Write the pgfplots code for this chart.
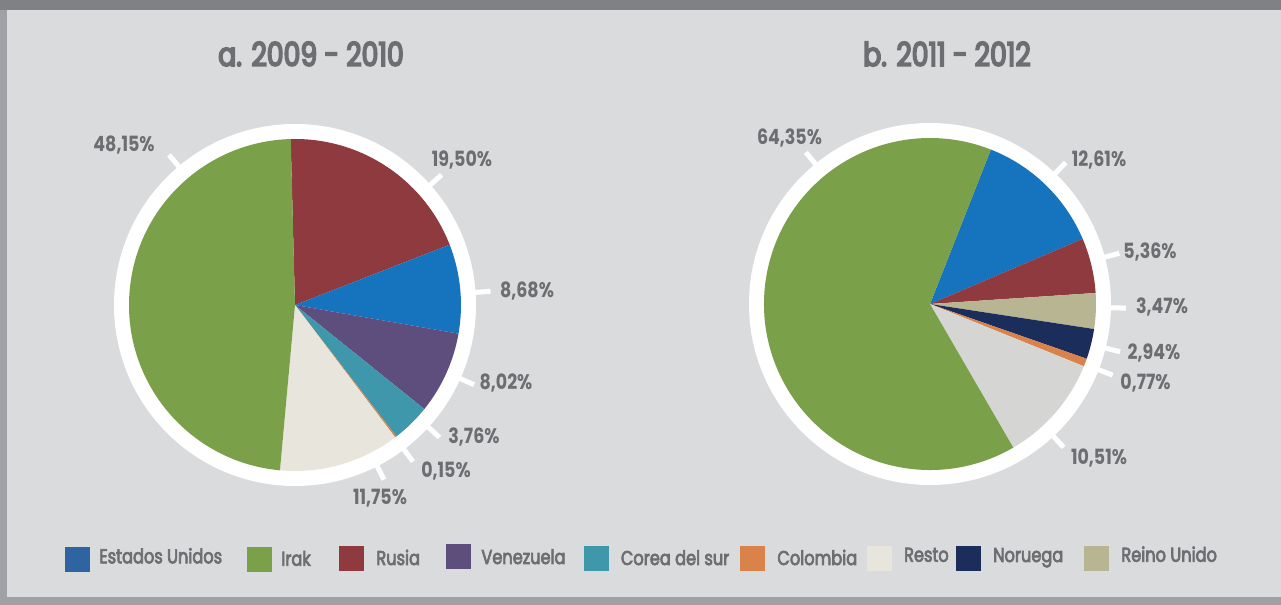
\documentclass[border=0pt]{standalone}
\usepackage{pgfplots}
\pgfplotsset{compat=1.18}
\usepackage{pgfplotstable}
\usepackage{fontspec}
\setmainfont{Poppins}[FakeStretch=0.83]
\newfontfamily\medfont{Poppins}[FakeStretch=0.81, FakeBold=3.5]
\newfontfamily\titfont{Poppins}[FakeStretch=0.81, FakeBold=5]
\definecolor{bg}{HTML}{DADBDD}
\definecolor{topbar}{HTML}{808185}
\definecolor{sidebar}{HTML}{A0A1A4}
\definecolor{txt}{HTML}{6D6E71}
\definecolor{cEEUU}{HTML}{1574BD}
\definecolor{cEEUUleg}{HTML}{2D64A1}
\definecolor{cIrak}{HTML}{7BA04A}
\definecolor{cRusia}{HTML}{8F3A3E}
\definecolor{cVen}{HTML}{5E4E7E}
\definecolor{cCorea}{HTML}{3F97AC}
\definecolor{cCol}{HTML}{D9824A}
\definecolor{cResto}{HTML}{E8E6DC}
\definecolor{cRestoB}{HTML}{D5D6D4}
\definecolor{cNor}{HTML}{1B2D5A}
\definecolor{cRU}{HTML}{B8B592}

% clockwise from the start angle
\pgfplotstableread{
name val col
Rusia 19.50 cRusia
EEUU 8.68 cEEUU
Venezuela 8.02 cVen
Corea 3.76 cCorea
Colombia 0.15 cCol
Resto 11.75 cResto
Irak 48.15 cIrak
}\tableA
\pgfplotstableread{
name val col
EEUU 12.61 cEEUU
Rusia 5.36 cRusia
ReinoUnido 3.47 cRU
Noruega 2.94 cNor
Colombia 0.77 cCol
Resto 10.51 cRestoB
Irak 64.35 cIrak
}\tableB

% #1 table, #2 cx, #3 cy, #4 start angle
\newcommand\drawpie[4]{%
  \fill[white] (axis cs:#2,#3) circle[radius=90.5pt];
  \pgfplotstablegetrowsof{#1}%
  \pgfmathtruncatemacro\lastrow{\pgfplotsretval-1}%
  \edef\curang{#4}%
  \pgfplotsforeachungrouped \i in {0,...,\lastrow}{%
    \pgfplotstablegetelem{\i}{val}\of{#1}%
    \pgfmathsetmacro\endang{\curang-3.6*\pgfplotsretval}%
    \pgfplotstablegetelem{\i}{col}\of{#1}%
    \edef\slicecol{\pgfplotsretval}%
    \fill[\slicecol] (axis cs:#2,#3) -- ++(\curang:83pt) arc[start angle=\curang, end angle=\endang, radius=83pt] -- cycle;
    \global\let\curang\endang
  }%
}
% tick and label: #1 cx, #2 cy, #3 angle, #4 label x, #5 label y, #6 text
\newcommand\plab[6]{%
  \draw[white, line width=2.5pt] (axis cs:#1,#2) ++(#3:89.5pt) -- ++(#3:8.5pt);
  \node[txt, font=\bfseries\fontsize{10.5}{12}\selectfont, inner sep=0pt] at (axis cs:#4,#5) {#6};
}
\newcommand\legitem[6]{% #1 col, #2 x0, #3 y0, #4 text x, #5 text baseline y, #6 text
  \fill[#1] (axis cs:#2,#3) rectangle ++(12.5pt,12.5pt);
  \node[txt, font=\medfont\fontsize{10}{12}\selectfont, anchor=base west, inner sep=0pt] at (axis cs:#4,#5) {#6};
}

\begin{document}
\begin{tikzpicture}
\begin{axis}[hide axis, scale only axis, width=640.5pt, height=302.5pt,
  xmin=0, xmax=1281, ymin=0, ymax=605, clip=false]
\addplot[draw=none] coordinates {(0,0) (1281,605)};
\pgfplotsextra{%
  \fill[bg] (axis cs:0,0) rectangle (axis cs:1281,605);
  \fill[sidebar] (axis cs:0,0) rectangle (axis cs:7,605);
  \fill[sidebar] (axis cs:0,0) rectangle (axis cs:1281,8);
  \fill[topbar] (axis cs:0,595) rectangle (axis cs:1281,605);
  \node[txt, font=\titfont\fontsize{16.5}{18}\selectfont, inner sep=0pt] at (axis cs:311,551) {a. 2009 - 2010};
  \node[txt, font=\titfont\fontsize{16.5}{18}\selectfont, inner sep=0pt] at (axis cs:947,551) {b. 2011 - 2012};
  \drawpie{\tableA}{295}{300}{91.5}
  \drawpie{\tableB}{930}{301}{68.5}
  \plab{295}{300}{130}{124}{460}{48,15\%}
  \plab{295}{300}{41.6}{462}{445}{19,50\%}
  \plab{295}{300}{4}{527}{314}{8,68\%}
  \plab{295}{300}{-24}{506}{222}{8,02\%}
  \plab{295}{300}{-42.5}{474}{168}{3,76\%}
  \plab{295}{300}{-53}{446}{134}{0,15\%}
  \plab{295}{300}{-63}{380}{107}{11,75\%}
  \plab{930}{301}{129.3}{789.5}{467}{64,35\%}
  \plab{930}{301}{46.2}{1099}{445}{12,61\%}
  \plab{930}{301}{15}{1150}{353}{5,36\%}
  \plab{930}{301}{-1.2}{1162}{298}{3,47\%}
  \plab{930}{301}{-14.1}{1154}{252}{2,94\%}
  \plab{930}{301}{-21.3}{1145.5}{222}{0,77\%}
  \plab{930}{301}{-47}{1099}{147}{10,51\%}
  \legitem{cEEUUleg}{65}{33}{99}{41.7}{Estados Unidos}
  \legitem{cIrak}{247}{33}{281}{39.3}{Irak}
  \legitem{cRusia}{339}{34}{376}{40}{Rusia}
  \legitem{cVen}{446}{36}{481}{41}{Venezuela}
  \legitem{cCorea}{584}{34}{620.5}{40}{Corea del sur}
  \legitem{cCol}{740}{34}{777}{40}{Colombia}
  \legitem{cResto}{867}{34}{903.7}{43.3}{Resto}
  \legitem{cNor}{956}{34}{992.8}{43}{Noruega}
  \legitem{cRU}{1084}{34}{1121}{43.3}{Reino Unido}
}
\end{axis}
\end{tikzpicture}
\end{document}
